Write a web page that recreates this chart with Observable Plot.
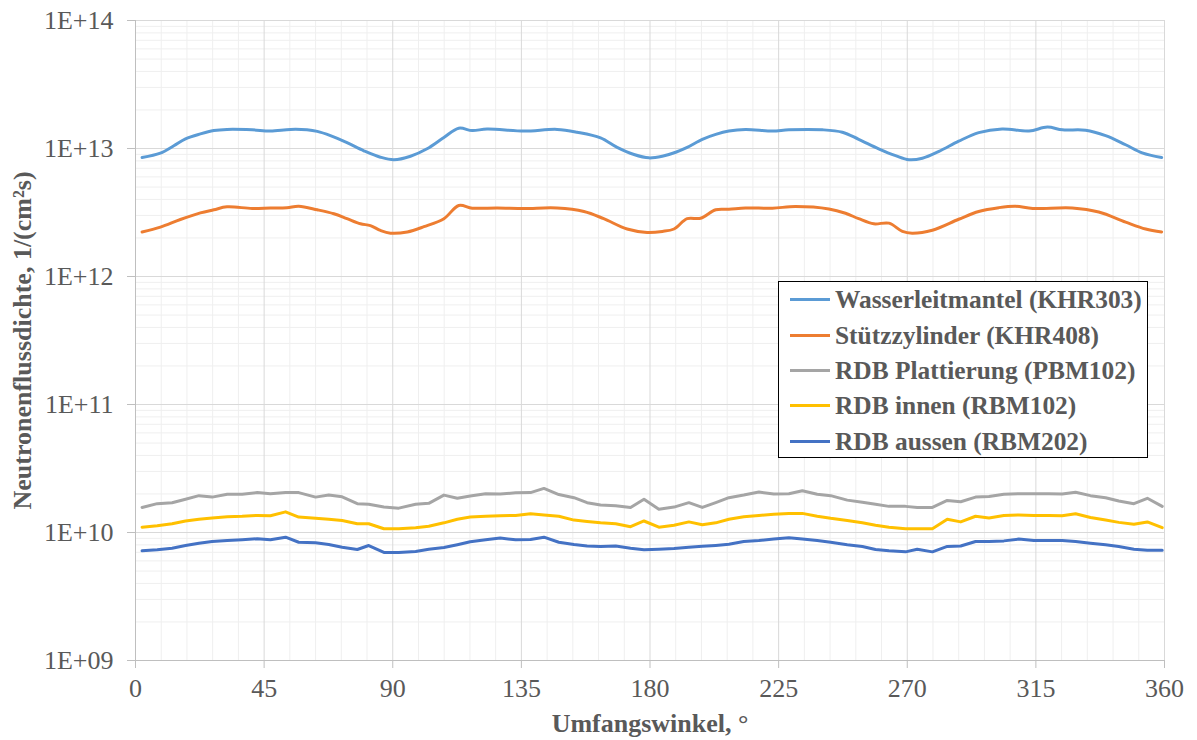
<!DOCTYPE html>
<html>
<head>
<meta charset="utf-8">
<script src="https://cdn.jsdelivr.net/npm/d3@7"></script>
<script src="https://cdn.jsdelivr.net/npm/@observablehq/plot@0.6"></script>
<style>
  body { margin: 0; background: #fff; }
  #wrap { position: relative; width: 1197px; height: 740px; font-family: "Liberation Serif", "Times New Roman", serif; }
  #legend { position: absolute; left: 778px; top: 281px; width: 370px; height: 177px; box-sizing: border-box; border: 1.5px solid #000; background: #fff; padding-top: 0px; }
  .row { height: 35.4px; display: flex; align-items: center; font-weight: bold; font-size: 25.4px; color: #595959; white-space: nowrap; }
  .sw { width: 40px; height: 3px; margin-left: 11px; margin-right: 5px; flex: none; }
</style>
</head>
<body>
<div id="wrap"><div id="legend"></div></div>
<script>
// ---------- data ----------
const seriesNames = [
  "Wasserleitmantel (KHR303)",
  "Stützzylinder (KHR408)",
  "RDB Plattierung (PBM102)",
  "RDB innen (RBM102)",
  "RDB aussen (RBM202)"
];
const seriesColors = ["#5B9BD5", "#ED7D31", "#A5A5A5", "#FFC000", "#4472C4"];

const xTicks = [0, 45, 90, 135, 180, 225, 270, 315, 360];
const yTicks = [1e9, 1e10, 1e11, 1e12, 1e13, 1e14];

// Wasserleitmantel (KHR303)
const anglesKHR303 = [2.3, 8.7, 13.4, 17.5, 22.7, 27.4, 32, 40.8, 47.2, 54.2, 60, 63.6, 68.2, 74, 79.9, 85.7, 90.4, 96.2, 102, 107.9, 113.1, 117.8, 123, 135.9, 147.5, 154.5, 162.7, 168.5, 174.4, 179.6, 184.3, 189, 193, 198.3, 203, 207.6, 213.4, 222.8, 228.6, 240.3, 247.3, 253, 260, 265.9, 270.6, 275.3, 281.1, 288, 295, 303.2, 312.6, 319, 324.3, 332.4, 339.4, 346.4, 352.2, 359];
const fluxKHR303 = [8.5e12, 9.2e12, 1.05e13, 1.19e13, 1.30e13, 1.38e13, 1.41e13, 1.40e13, 1.37e13, 1.41e13, 1.40e13, 1.36e13, 1.26e13, 1.11e13, 9.6e12, 8.55e12, 8.17e12, 8.7e12, 9.95e12, 1.22e13, 1.44e13, 1.38e13, 1.42e13, 1.37e13, 1.41e13, 1.34e13, 1.21e13, 1.02e13, 8.97e12, 8.45e12, 8.7e12, 9.35e12, 1.02e13, 1.18e13, 1.29e13, 1.37e13, 1.41e13, 1.37e13, 1.40e13, 1.40e13, 1.34e13, 1.18e13, 9.95e12, 8.8e12, 8.17e12, 8.4e12, 9.5e12, 1.14e13, 1.33e13, 1.42e13, 1.37e13, 1.47e13, 1.40e13, 1.39e13, 1.26e13, 1.07e13, 9.25e12, 8.5e12];

// Stützzylinder (KHR408)
const anglesKHR408 = [2.3, 8.7, 15.7, 22.7, 27.4, 32, 40.8, 47.2, 53, 57.1, 63.6, 69.4, 74, 78.7, 82.2, 85.7, 89.2, 95.1, 100.9, 107.9, 113.1, 117.8, 126.6, 135.9, 147.5, 156.9, 163.8, 172, 179, 184.3, 188.4, 193, 197.7, 203, 207.6, 213.4, 222.8, 230.9, 242.6, 248.4, 253, 258.3, 263.6, 268.3, 271.7, 278.8, 288, 295, 302, 307.9, 313.9, 327.7, 337, 346.4, 353.4, 359];
const fluxKHR408 = [2.23e12, 2.43e12, 2.79e12, 3.14e12, 3.32e12, 3.50e12, 3.40e12, 3.43e12, 3.45e12, 3.54e12, 3.32e12, 3.09e12, 2.83e12, 2.58e12, 2.50e12, 2.29e12, 2.18e12, 2.23e12, 2.45e12, 2.83e12, 3.59e12, 3.42e12, 3.43e12, 3.40e12, 3.43e12, 3.22e12, 2.83e12, 2.35e12, 2.21e12, 2.25e12, 2.35e12, 2.83e12, 2.85e12, 3.32e12, 3.35e12, 3.43e12, 3.42e12, 3.52e12, 3.37e12, 3.12e12, 2.83e12, 2.58e12, 2.61e12, 2.25e12, 2.18e12, 2.30e12, 2.80e12, 3.22e12, 3.45e12, 3.54e12, 3.40e12, 3.43e12, 3.19e12, 2.66e12, 2.35e12, 2.23e12];

// shared angles for the three RDB series
const anglesRDB = [2.3, 7.6, 12.8, 17.5, 22.2, 26.8, 32.1, 37.3, 42.6, 47.2, 52.5, 57.1, 63, 67.6, 72.3, 77.6, 81.6, 86.9, 92.1, 98, 102.6, 107.9, 112.6, 117.1, 122.5, 127.6, 133, 138.2, 142.9, 148.1, 153.4, 158, 162.7, 168, 173.2, 177.9, 183.1, 188.4, 193.6, 198.3, 203, 207.6, 212.8, 218.1, 223.3, 228.6, 233.3, 238.5, 243.2, 249, 254.3, 258.9, 263.6, 269.4, 273.5, 278.8, 284, 288.7, 293.9, 298.6, 303.8, 309, 314.3, 319.5, 324.2, 328.9, 334.1, 339.4, 344, 349.3, 354, 359.2];

// RDB Plattierung (PBM102)
const fluxPBM102 = [1.57e10, 1.68e10, 1.71e10, 1.82e10, 1.94e10, 1.89e10, 1.99e10, 1.99e10, 2.05e10, 2.01e10, 2.05e10, 2.05e10, 1.89e10, 1.96e10, 1.90e10, 1.68e10, 1.66e10, 1.58e10, 1.55e10, 1.66e10, 1.69e10, 1.96e10, 1.85e10, 1.93e10, 2.01e10, 2.00e10, 2.04e10, 2.05e10, 2.21e10, 1.98e10, 1.87e10, 1.71e10, 1.64e10, 1.62e10, 1.57e10, 1.82e10, 1.52e10, 1.58e10, 1.71e10, 1.57e10, 1.71e10, 1.87e10, 1.96e10, 2.07e10, 2.00e10, 2.01e10, 2.12e10, 1.99e10, 1.94e10, 1.79e10, 1.72e10, 1.66e10, 1.60e10, 1.60e10, 1.57e10, 1.57e10, 1.78e10, 1.74e10, 1.89e10, 1.91e10, 1.99e10, 2.01e10, 2.01e10, 2.01e10, 2.00e10, 2.06e10, 1.94e10, 1.87e10, 1.76e10, 1.68e10, 1.85e10, 1.60e10];

// RDB innen (RBM102)
const fluxRBM102 = [1.10e10, 1.13e10, 1.17e10, 1.23e10, 1.27e10, 1.30e10, 1.33e10, 1.34e10, 1.36e10, 1.35e10, 1.45e10, 1.32e10, 1.29e10, 1.27e10, 1.24e10, 1.17e10, 1.17e10, 1.07e10, 1.07e10, 1.09e10, 1.12e10, 1.19e10, 1.27e10, 1.32e10, 1.34e10, 1.35e10, 1.36e10, 1.40e10, 1.37e10, 1.34e10, 1.25e10, 1.22e10, 1.19e10, 1.17e10, 1.11e10, 1.23e10, 1.10e10, 1.14e10, 1.21e10, 1.15e10, 1.19e10, 1.27e10, 1.33e10, 1.36e10, 1.39e10, 1.41e10, 1.41e10, 1.34e10, 1.29e10, 1.24e10, 1.19e10, 1.14e10, 1.10e10, 1.07e10, 1.07e10, 1.07e10, 1.27e10, 1.21e10, 1.34e10, 1.30e10, 1.36e10, 1.37e10, 1.36e10, 1.36e10, 1.35e10, 1.40e10, 1.31e10, 1.25e10, 1.20e10, 1.16e10, 1.21e10, 1.09e10];

// RDB aussen (RBM202)
const fluxRBM202 = [7.19e9, 7.33e9, 7.54e9, 7.91e9, 8.24e9, 8.50e9, 8.65e9, 8.77e9, 8.94e9, 8.77e9, 9.19e9, 8.39e9, 8.30e9, 8.06e9, 7.67e9, 7.36e9, 7.91e9, 6.98e9, 6.98e9, 7.11e9, 7.41e9, 7.63e9, 8.03e9, 8.47e9, 8.77e9, 9.04e9, 8.77e9, 8.83e9, 9.19e9, 8.39e9, 8.06e9, 7.85e9, 7.78e9, 7.85e9, 7.54e9, 7.33e9, 7.40e9, 7.50e9, 7.67e9, 7.80e9, 7.93e9, 8.10e9, 8.50e9, 8.65e9, 8.88e9, 9.10e9, 8.88e9, 8.65e9, 8.39e9, 8.03e9, 7.78e9, 7.36e9, 7.19e9, 7.06e9, 7.41e9, 7.06e9, 7.78e9, 7.85e9, 8.50e9, 8.50e9, 8.60e9, 8.88e9, 8.65e9, 8.65e9, 8.65e9, 8.50e9, 8.24e9, 8.03e9, 7.78e9, 7.41e9, 7.27e9, 7.27e9];

// ---------- build ----------
const seriesDefs = [
  {angles: anglesKHR303, values: fluxKHR303, curve: "catmull-rom"},
  {angles: anglesKHR408, values: fluxKHR408, curve: "catmull-rom"},
  {angles: anglesRDB, values: fluxPBM102, curve: "linear"},
  {angles: anglesRDB, values: fluxRBM102, curve: "linear"},
  {angles: anglesRDB, values: fluxRBM202, curve: "linear"}
];
const rows = seriesDefs.map((s, i) => s.angles.map((a, j) => ({angle: a, flux: s.values[j], name: seriesNames[i]})));

const xMinor = d3.range(0, 361, 9).filter(v => v % 45 !== 0);
const yMinor = [];
for (let e = 9; e < 14; e++) for (let m = 2; m <= 9; m++) yMinor.push(m * Math.pow(10, e));

const fmt = d => "1E+" + String(Math.round(Math.log10(d))).padStart(2, "0");

const chart = Plot.plot({
  width: 1197,
  height: 740,
  marginLeft: 135,
  marginRight: 33,
  marginTop: 20,
  marginBottom: 80,
  style: {fontFamily: "'Liberation Serif', 'Times New Roman', serif", fontSize: "26px", color: "#595959", background: "#fff"},
  x: {domain: [0, 360]},
  y: {type: "log", domain: [1e9, 1e14]},
  marks: [
    Plot.ruleX(xMinor, {stroke: "#efefef", strokeWidth: 1}),
    Plot.ruleY(yMinor, {stroke: "#efefef", strokeWidth: 1}),
    Plot.ruleX(xTicks, {stroke: "#d9d9d9", strokeWidth: 1}),
    Plot.ruleY(yTicks, {stroke: "#d9d9d9", strokeWidth: 1}),
    Plot.ruleX([0], {stroke: "#bfbfbf", strokeWidth: 1}),
    Plot.ruleY([1e9], {stroke: "#bfbfbf", strokeWidth: 1}),
    Plot.axisX({ticks: xTicks, tickSize: 8, tickPadding: 10, stroke: "#bfbfbf", fill: "#595959", label: null, fontSize: 26}),
    Plot.axisY({ticks: yTicks, tickFormat: fmt, tickSize: 8, tickPadding: 14, stroke: "#bfbfbf", fill: "#595959", label: null, fontSize: 26}),
    ...rows.map((r, i) => Plot.line(r, {x: "angle", y: "flux", stroke: seriesColors[i], strokeWidth: 3, curve: seriesDefs[i].curve})),
    Plot.text(["Umfangswinkel, °"], {frameAnchor: "bottom", dy: 71, fontWeight: "bold", fill: "#595959", fontSize: 26}),
    Plot.text(["Neutronenflussdichte, 1/(cm²s)"], {frameAnchor: "left", textAnchor: "middle", dx: -113, dy: 0, rotate: -90, fontWeight: "bold", fill: "#595959", fontSize: 26})
  ]
});
document.getElementById("wrap").prepend(chart);

const legend = document.getElementById("legend");
seriesNames.forEach((n, i) => {
  const row = document.createElement("div");
  row.className = "row";
  const sw = document.createElement("span");
  sw.className = "sw";
  sw.style.background = seriesColors[i];
  const t = document.createElement("span");
  t.textContent = n;
  row.appendChild(sw);
  row.appendChild(t);
  legend.appendChild(row);
});
</script>
</body>
</html>
